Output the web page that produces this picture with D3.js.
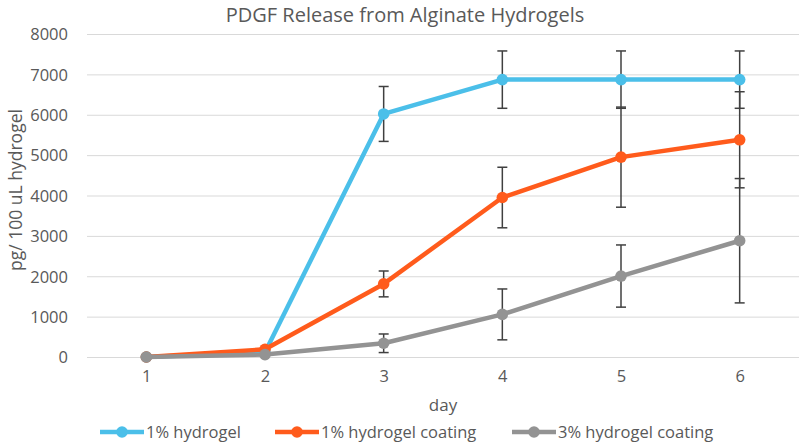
<!DOCTYPE html>
<html>
<head>
<meta charset="utf-8">
<script src="https://cdn.jsdelivr.net/npm/d3@7"></script>
<style>
  body { margin: 0; background: #fff; }
  svg { display: block; }
  text { font-family: "Open Sans", sans-serif; fill: #595959; }
</style>
</head>
<body>
<svg id="chart" width="800" height="443"></svg>
<script>
const days = ["1", "2", "3", "4", "5", "6"];
const yTicks = [0, 1000, 2000, 3000, 4000, 5000, 6000, 7000, 8000];
const seriesNames = ["1% hydrogel", "1% hydrogel coating", "3% hydrogel coating"];
const seriesColors = ["#4BBFE9", "#FF5B1C", "#939393"];
const hydrogel1 = [0, 120, 6020, 6870, 6870, 6870];
const hydrogel1Err = [0, 0, 680, 710, 710, 710];
const coating1 = [0, 190, 1810, 3950, 4950, 5380];
const coating1Err = [0, 0, 320, 750, 1240, 1190];
const coating3 = [0, 60, 340, 1055, 2005, 2880];
const coating3Err = [0, 0, 230, 630, 770, 1540];

const seriesValues = [hydrogel1, coating1, coating3];
const seriesErrors = [hydrogel1Err, coating1Err, coating3Err];

const svg = d3.select("#chart");
const margin = { left: 87, right: 1, top: 34, bottom: 86 };
const W = 800, H = 443;

const x = d3.scalePoint().domain(days).range([margin.left, W - margin.right]).padding(0.5);
const y = d3.scaleLinear().domain([0, 8000]).range([H - margin.bottom, margin.top]);

// gridlines
svg.append("g").selectAll("line").data(yTicks).join("line")
  .attr("x1", margin.left).attr("x2", W - margin.right)
  .attr("y1", d => y(d) + 0.5).attr("y2", d => y(d) + 0.5)
  .attr("stroke", "#D9D9D9").attr("stroke-width", 1);

// y axis labels
const yAxis = svg.append("g").attr("transform", `translate(${margin.left - 19},0)`)
  .call(d3.axisLeft(y).tickValues(yTicks).tickSize(0).tickPadding(0).tickFormat(d3.format("d")));
yAxis.select(".domain").remove();
yAxis.selectAll("text").style("font-size", "16.5px").attr("fill", "#595959")
  .style("font-family", '"Open Sans", sans-serif').attr("dy", "0.35em");

// x axis labels
const xAxis = svg.append("g").attr("transform", `translate(0,${y(0) + 19})`)
  .call(d3.axisBottom(x).tickSize(0).tickPadding(0));
xAxis.select(".domain").remove();
xAxis.selectAll("text").style("font-size", "16.5px").attr("fill", "#595959")
  .style("font-family", '"Open Sans", sans-serif').attr("dy", "0.35em");

// series
const line = d3.line().x((d, i) => x(days[i])).y(d => y(d));
seriesValues.forEach((vals, s) => {
  const g = svg.append("g");
  const errs = seriesErrors[s];
  const eb = g.append("g").selectAll("g").data(vals.map((v, i) => ({ v, e: errs[i], d: days[i] })).filter(o => o.e > 0)).join("g");
  eb.append("line").attr("x1", o => x(o.d)).attr("x2", o => x(o.d))
    .attr("y1", o => y(o.v + o.e)).attr("y2", o => y(o.v - o.e))
    .attr("stroke", "#404040").attr("stroke-width", 1.5);
  eb.append("line").attr("x1", o => x(o.d) - 5).attr("x2", o => x(o.d) + 5)
    .attr("y1", o => y(o.v + o.e)).attr("y2", o => y(o.v + o.e))
    .attr("stroke", "#404040").attr("stroke-width", 1.5);
  eb.append("line").attr("x1", o => x(o.d) - 5).attr("x2", o => x(o.d) + 5)
    .attr("y1", o => y(o.v - o.e)).attr("y2", o => y(o.v - o.e))
    .attr("stroke", "#404040").attr("stroke-width", 1.5);
  g.append("path").datum(vals).attr("d", line).attr("fill", "none")
    .attr("stroke", seriesColors[s]).attr("stroke-width", 4.5).attr("stroke-linejoin", "round");
  g.append("g").selectAll("circle").data(vals).join("circle")
    .attr("cx", (d, i) => x(days[i])).attr("cy", d => y(d)).attr("r", 5.8)
    .attr("fill", seriesColors[s]);
});

// title
svg.append("text").attr("x", 405).attr("y", 21.5).attr("text-anchor", "middle")
  .style("font-size", "20px").text("PDGF Release from Alginate Hydrogels");

// axis titles
svg.append("text").attr("x", (margin.left + W - margin.right) / 2).attr("y", 405)
  .attr("text-anchor", "middle").attr("dy", "0.35em").style("font-size", "17px").text("day");
svg.append("text").attr("transform", "translate(16,190) rotate(-90)")
  .attr("text-anchor", "middle").attr("dy", "0.35em").style("font-size", "17.5px").text("pg/ 100 uL hydrogel");

// legend
const legendX = [100, 275, 512];
const lg = svg.append("g").selectAll("g").data(seriesNames).join("g")
  .attr("transform", (d, i) => `translate(${legendX[i]},432)`);
lg.append("line").attr("x1", 0).attr("x2", 44).attr("y1", 0).attr("y2", 0)
  .attr("stroke", (d, i) => seriesColors[i]).attr("stroke-width", 4.5);
lg.append("circle").attr("cx", 22).attr("cy", 0).attr("r", 5.8).attr("fill", (d, i) => seriesColors[i]);
lg.append("text").attr("x", 46).attr("dy", "0.35em").style("font-size", "16.5px").text(d => d);
</script>
</body>
</html>
